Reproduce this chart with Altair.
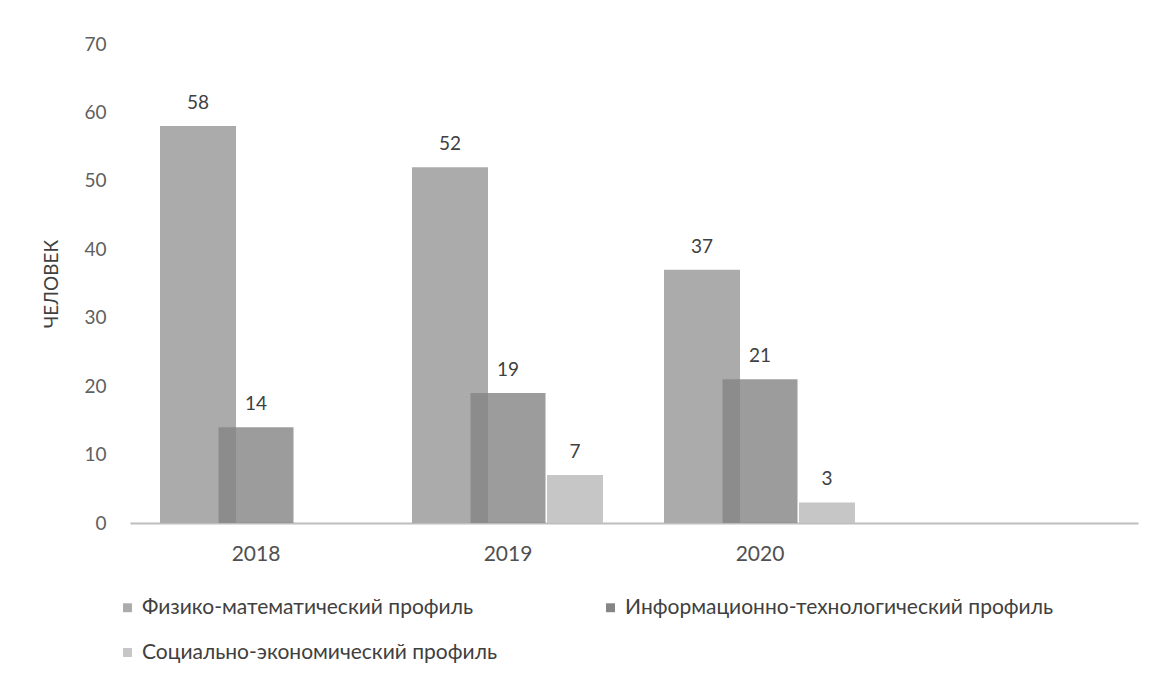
import altair as alt
import pandas as pd

years = ["2018", "2019", "2020", " "]
series = ["Физико-математический профиль",
          "Информационно-технологический профиль",
          "Социально-экономический профиль"]
phys = [58, 52, 37]
it = [14, 19, 21]
soc = [None, 7, 3]
colors = ["#ababab", "#858585", "#c6c6c6"]

FONT = "Lato"

def frame(vals, name):
    rows = [{"year": y, "v": v, "s": name} for y, v in zip(years[:3], vals) if v is not None]
    return pd.DataFrame(rows)

xenc = alt.X("year:N", scale=alt.Scale(domain=years, paddingInner=0, paddingOuter=0),
             axis=alt.Axis(title=None, labelAngle=0, ticks=False, domainColor="#bdbdbd",
                           domainWidth=2, labelFontSize=21, labelColor="#505050",
                           labelPadding=20, labelFont=FONT))
yenc = alt.Y("v:Q", scale=alt.Scale(domain=[0, 70]),
             axis=alt.Axis(title="ЧЕЛОВЕК", values=list(range(0, 71, 10)), grid=False,
                           domain=False, ticks=False, labelFontSize=19, labelColor="#606060",
                           labelPadding=24, titleFontSize=19, titleFontWeight="normal",
                           titleColor="#404040", titlePadding=22, labelFont=FONT,
                           titleFont=FONT))

colscale = alt.Scale(domain=series, range=colors)
legend = alt.Legend(title=None, orient="none", legendX=-13, legendY=553, columns=2,
                    columnPadding=102, rowPadding=23, symbolType="square", symbolSize=80,
                    labelFontSize=21, labelColor="#404040", labelFont=FONT, labelLimit=700,
                    symbolStrokeWidth=0, labelOffset=4, direction="horizontal")

specs = [
    (phys, series[0], 76, -58, 1.0),
    (it, series[1], 75, 0, 0.81),
    (soc, series[2], 56, 67, 1.0),
]
layers = []
for vals, name, w, off, op in specs:
    df = frame(vals, name)
    base = alt.Chart(df)
    bar = base.mark_bar(width=w, xOffset=off, opacity=op).encode(
        x=xenc, y=yenc,
        color=alt.Color("s:N", scale=colscale, legend=legend))
    txt = base.mark_text(xOffset=off, dy=-13, fontSize=19, color="#404040",
                         font=FONT, baseline="bottom").encode(
        x=alt.X("year:N", scale=alt.Scale(domain=years)), y="v:Q", text="v:Q")
    layers += [bar, txt]

chart = alt.layer(*layers).properties(
    width=1008, height=479, background="white",
    autosize=alt.AutoSizeParams(type="none"),
    padding={"left": 122, "top": 36, "right": 10, "bottom": 140},
).configure_view(stroke=None)

chart.save("out.html", embed_options={"renderer": "svg", "actions": False})
